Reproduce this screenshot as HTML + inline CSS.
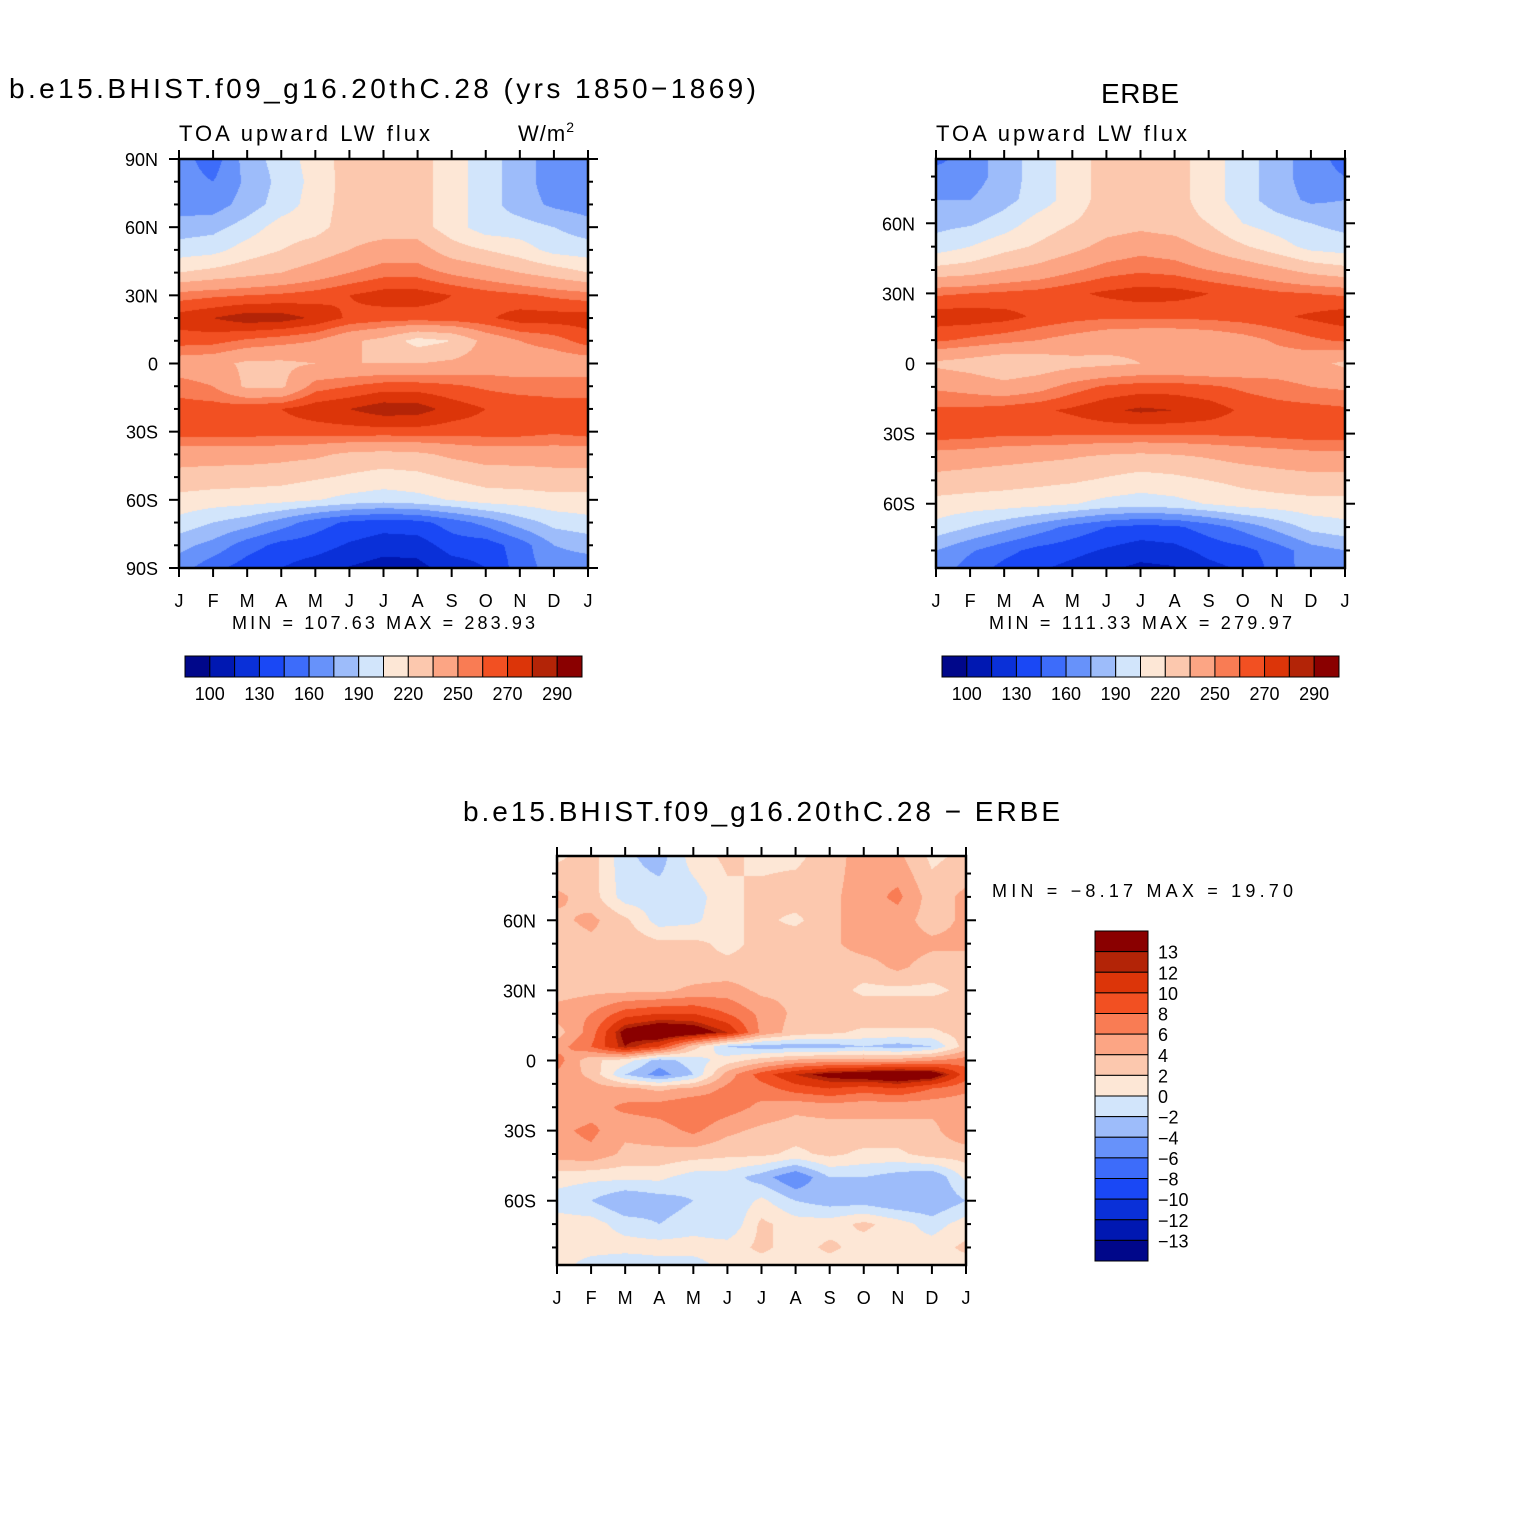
<!DOCTYPE html>
<html><head><meta charset="utf-8"><style>
html,body{margin:0;padding:0;background:#fff;}
#root{position:relative;width:1524px;height:1524px;overflow:hidden;font-family:"Liberation Sans","DejaVu Sans",sans-serif;}
canvas{position:absolute;}
svg{position:absolute;left:0;top:0;}
</style></head><body>
<div id="root">
<canvas id="c1" width="409" height="409" style="left:179px;top:159px"></canvas>
<canvas id="c2" width="409" height="409" style="left:936px;top:159px"></canvas>
<canvas id="c3" width="409" height="409" style="left:557px;top:856px"></canvas>
<svg id="ov" width="1524" height="1524"></svg>
</div>
<script>
// ---- data ----
const months = ["J","F","M","A","M","J","J","A","S","O","N","D","J"];
const colors = ["#00078a","#0018b2","#0a30d8","#1a48f5","#3d6cfa","#6792fa","#9dbcfa","#d2e5fb","#fde7d6","#fcc8ae","#fca584","#f97c54","#f25022","#dc3509","#b32407","#8a0000"];
const absLevels = [100,115,130,145,160,175,190,205,220,235,250,260,270,280,290];
const absLabels = ["100","130","160","190","220","250","270","290"];
const diffLevels = [-13,-12,-10,-8,-6,-4,-2,0,2,4,6,8,10,12,13];
const diffLabels = ["13","12","10","8","6","4","2","0","\u22122","\u22124","\u22126","\u22128","\u221210","\u221212","\u221213"];
const absLats = [90,80,70,60,50,40,30,20,10,0,-10,-20,-30,-40,-50,-60,-70,-80,-90];
const modelVals = [
[167,152,182,197,212,227,227,227,212,197,182,167,167],
[167,160,178,195,210,227,227,227,212,197,182,167,167],
[167,167,182,197,212,227,227,227,212,197,182,172,167],
[182,185,197,212,215,227,227,227,212,197,197,190,182],
[197,200,212,220,227,235,242,242,227,220,212,200,197],
[220,225,230,235,242,250,256,256,248,242,235,228,220],
[255,258,260,262,265,270,275,275,270,265,262,258,255],
[275,280,286,285,278,268,265,265,266,268,275,275,275],
[265,264,258,254,250,238,230,214,220,240,250,255,265],
[242,240,232,232,235,235,235,235,238,242,242,242,242],
[255,250,232,232,255,260,265,265,262,258,255,255,255],
[265,265,267,270,276,280,286,285,276,270,268,265,265],
[265,265,265,265,265,266,266,266,265,265,265,262,265],
[242,242,242,240,238,232,230,232,238,242,242,242,242],
[230,228,227,226,222,218,214,216,222,227,228,230,230],
[215,213,212,210,206,200,197,200,206,212,213,215,215],
[200,190,182,168,152,142,137,140,152,165,182,195,200],
[180,170,152,140,137,128,122,122,137,137,152,175,180],
[167,150,137,130,122,114,108,110,122,130,152,167,167]];
const erbeVals = [
[152,167,182,197,212,227,230,227,212,197,182,167,152],
[167,167,182,197,212,227,227,227,212,197,182,167,160],
[175,175,185,197,212,227,227,227,212,197,182,172,175],
[185,188,197,212,220,227,230,227,220,205,197,190,185],
[197,205,215,222,230,240,245,242,232,222,212,200,197],
[225,228,235,240,248,255,258,256,250,245,238,230,225],
[258,260,262,264,268,272,275,274,270,266,262,260,258],
[276,276,274,268,264,262,262,262,263,265,268,272,276],
[262,258,254,250,245,240,238,238,240,245,252,258,262],
[232,228,222,225,230,232,235,235,235,238,242,240,232],
[248,245,240,245,255,262,265,265,262,258,254,250,248],
[262,262,265,268,272,278,282,280,276,268,265,264,262],
[266,265,262,262,262,262,262,262,262,262,264,266,266],
[244,242,240,238,236,232,230,232,236,240,242,244,244],
[230,228,226,224,222,218,214,216,220,224,228,230,230],
[215,213,212,210,206,200,197,200,206,212,213,215,215],
[200,190,180,168,155,145,140,142,152,165,180,195,200],
[175,162,150,140,135,128,122,125,135,140,152,168,175],
[167,150,137,130,122,114,108,110,122,130,152,167,167]];
const diffLats = [87.5,70,60,50,40,30,20,12,6,0,-6,-12,-20,-30,-40,-50,-60,-70,-80,-87.5];
const diffVals = [
[1.5,3,-1.5,-3,1,2.5,1.5,1.5,3,5,4.5,1.5,2.5],
[4.5,3,-1,-1,-1,1.5,2.5,3,3.5,5,6.5,3,4.5],
[3.5,4.5,2.5,-1,-0.5,1.5,2.5,1.5,3.5,5,5,3,4.5],
[3,3.5,3.5,2.5,2.5,1.5,2.5,3.5,3.5,5,5,4.5,4.5],
[3.5,3,3.5,2.5,2.5,2.5,2.5,3.5,3,3,4.5,3,3],
[3,3.5,3.5,3.5,4.5,5,3.5,3.5,3,1.5,1.5,1.5,2.5],
[5,6,9,10,10,8,5.5,3.5,3.5,3.5,3.5,3.5,3],
[3,7,14,16,15,12,5.5,3,2.5,1.5,1.5,1.5,3],
[5,8,13,10,3,-2,-3,-3,-3,-2,-3,-2,3],
[7,2.5,1,-3,-1,1,3,4.5,5,5,5,6,7],
[5.5,3.5,-2,-5,-2,5,9,12,14,15,16,15,9],
[5,5,4.5,3.5,4.5,6.5,7,9,10,9,10,8,6.5],
[4.5,5,6.5,7,8,7,5.5,4.5,5,4.5,4.5,4.5,4.5],
[5.5,6.5,4.5,5,6.5,4.5,3.5,3,3,3.5,3.5,3.5,5.5],
[5,5.5,3.5,3.5,3,2.5,2.5,1.5,2.5,1.5,1.5,3,3],
[1,0.5,0.5,0.5,-1,-1,-3,-6,-2,-2,-3,-4,0.5],
[-1,-2,-4,-3,-2,-2,0.5,-2,-3,-3,-4,-4,-2],
[1,1,-1,-2,-1,-2,2.5,1,1,2.5,1,-1,1],
[1,1,1,1,1,1,2.5,1,2.5,1,1,1,2.5],
[1,-1,-2,-1,-1,1,1,1,1,1,1,1,1]];

// ---- rendering ----
function hexRgb(h){return [parseInt(h.slice(1,3),16),parseInt(h.slice(3,5),16),parseInt(h.slice(5,7),16)];}
const rgb = colors.map(hexRgb);
function binOf(v,lv){let i=0;while(i<lv.length&&v>=lv[i])i++;return i;}
function render(id,lats,vals,levels,latTop,latBot){
  const cv=document.getElementById(id),ctx=cv.getContext('2d');
  const W=cv.width,H=cv.height,img=ctx.createImageData(W,H);
  const nm=vals[0].length;
  for(let y=0;y<H;y++){
    const lat=latTop+(latBot-latTop)*(y+0.5)/H;
    let r=0;while(r<lats.length-2&&lat<lats[r+1])r++;
    let t=(lats[r]-lat)/(lats[r]-lats[r+1]);t=Math.max(0,Math.min(1,t));
    for(let x=0;x<W;x++){
      const m=(x+0.5)/W*(nm-1);let c=Math.min(nm-2,Math.floor(m));const s=m-c;
      const v=(vals[r][c]*(1-s)+vals[r][c+1]*s)*(1-t)+(vals[r+1][c]*(1-s)+vals[r+1][c+1]*s)*t;
      const col=rgb[binOf(v,levels)];const k=(y*W+x)*4;
      img.data[k]=col[0];img.data[k+1]=col[1];img.data[k+2]=col[2];img.data[k+3]=255;
    }
  }
  ctx.putImageData(img,0,0);
}
render('c1',absLats,modelVals,absLevels,90,-90);
render('c2',absLats,erbeVals,absLevels,87.5,-87.5);
render('c3',diffLats,diffVals,diffLevels,87.5,-87.5);

// ---- axes ----
const NS='http://www.w3.org/2000/svg';
const ov=document.getElementById('ov');
function mk(tag,attrs,parent){const e=document.createElementNS(NS,tag);for(const k in attrs)e.setAttribute(k,attrs[k]);(parent||ov).appendChild(e);return e;}
function txt(x,y,s,size,anchor,name,len){const e=mk('text',{x:x,y:y,'font-size':size,'text-anchor':anchor||'start',fill:'#000','font-family':'Liberation Sans, DejaVu Sans, sans-serif'});e.textContent=s;
if(len){e.setAttribute('textLength',len);e.setAttribute('lengthAdjust','spacing');}


return e;}
function axes(x0,y0,latTop,latBot,latLabels,prefix){
  const S=409;
  const g=mk('g',{});
  
  
  const fr=mk('rect',{x:x0,y:y0,width:S,height:S,fill:'none',stroke:'#000','stroke-width':2.5},g);
  
  
  for(let i=0;i<months.length;i++){
    const x=x0+i*S/12;
    mk('line',{x1:x,y1:y0,x2:x,y2:y0-9,stroke:'#000','stroke-width':2},g);
    mk('line',{x1:x,y1:y0+S,x2:x,y2:y0+S+9,stroke:'#000','stroke-width':2},g);
    txt(x,y0+S+39,months[i],18,'middle',prefix+'-month-label');
  }
  const ly=lat=>y0+(latTop-lat)/(latTop-latBot)*S;
  for(let lat=90;lat>=-90;lat-=10){
    if(lat>latTop+0.01||lat<latBot-0.01)continue;
    const y=ly(lat);const major=lat%30===0;const L=major?10:5;
    mk('line',{x1:x0,y1:y,x2:x0-L,y2:y,stroke:'#000','stroke-width':2},g);
    mk('line',{x1:x0+S,y1:y,x2:x0+S+L,y2:y,stroke:'#000','stroke-width':2},g);
  }
  latLabels.forEach(l=>{txt(x0-21,ly(l[0])+7,l[1],18,'end',prefix+'-lat-label');});
}
axes(179,159,90,-90,[[90,'90N'],[60,'60N'],[30,'30N'],[0,'0'],[-30,'30S'],[-60,'60S'],[-90,'90S']],'model');
axes(936,159,87.5,-87.5,[[60,'60N'],[30,'30N'],[0,'0'],[-30,'30S'],[-60,'60S']],'erbe');
axes(557,856,87.5,-87.5,[[60,'60N'],[30,'30N'],[0,'0'],[-30,'30S'],[-60,'60S']],'diff');

txt(9,98,'b.e15.BHIST.f09_g16.20thC.28 (yrs 1850\u22121869)',28,'start','model-title',747);
txt(179,141,'TOA upward LW flux',22,'start','model-subtitle',251);
const u=txt(518,141,'W/m',22,'start','units-label',56);
const sup=mk('tspan',{dy:-9,'font-size':14},u);sup.textContent='2';
txt(1101,103,'ERBE',28,'start','erbe-title',78);
txt(936,141,'TOA upward LW flux',22,'start','erbe-subtitle',251);
txt(232,629,'MIN = 107.63 MAX = 283.93',18,'start','model-minmax',303);
txt(989,629,'MIN = 111.33 MAX = 279.97',18,'start','erbe-minmax',303);
txt(463,821,'b.e15.BHIST.f09_g16.20thC.28 \u2212 ERBE',28,'start','diff-title',597);
txt(992,897,'MIN =  \u22128.17 MAX =  19.70',18,'start','diff-minmax',301);

function hbar(x0,y0,prefix){
  const w=397/16;
  for(let i=0;i<16;i++){
    const r=mk('rect',{x:x0+i*w,y:y0,width:w,height:21,fill:colors[i],stroke:'#000','stroke-width':1});
    
    
  }
  absLabels.forEach((l,j)=>txt(x0+(2*j+1)*w,y0+44,l,18,'middle',prefix+'-colorbar-label'));
}
hbar(185,656,'model');hbar(942,656,'erbe');
(function(){
  const x0=1095,y0=931,h=330/16;
  for(let i=0;i<16;i++){
    const r=mk('rect',{x:x0,y:y0+i*h,width:53,height:h,fill:colors[15-i],stroke:'#000','stroke-width':1});
    
    
  }
  diffLabels.forEach((l,j)=>txt(x0+63,y0+(j+1)*h+7,l,18,'start','diff-colorbar-label'));
})();
</script>
</body></html>
